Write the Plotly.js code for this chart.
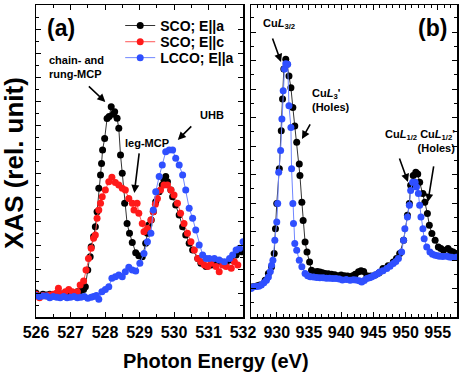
<!DOCTYPE html>
<html>
<head>
<meta charset="utf-8">
<script src="https://cdn.plot.ly/plotly-3.0.1.min.js"></script>
<style>
html,body{margin:0;padding:0;background:#fff;}
#chart{width:463px;height:374px;}
</style>
</head>
<body>
<div id="chart"></div>
<script>
/* ---------- O K-edge (panel a) ---------- */

const oBlackX=[526.0,526.1,526.2,526.3,526.4,526.5,526.6,526.7,526.8,526.9,527.0,527.1,527.2,527.3,527.38,527.43,527.5,527.57,527.6,527.67,527.72,527.77,527.82,527.87,527.9,527.93,527.99,528.06,528.12,528.18,528.24,528.28,528.35,528.4,528.45,528.5,528.57,528.64,528.71,528.79,528.89,528.98,529.08,529.18,529.23,529.27,529.34,529.4,529.47,529.57,529.66,529.71,529.76,529.81,529.91,529.96,530.05,530.15,530.25,530.34,530.44,530.54,530.69,530.78,530.93,531.08,531.22,531.36,531.51,531.66,531.8,531.95];
const oBlackY=[1.0,0.85,0.95,0.92,0.95,0.9,0.92,0.97,0.9,0.95,0.95,0.98,1.05,1.1,1.15,1.26,1.96,2.51,2.93,3.35,3.76,4.39,5.36,5.92,6.4,6.96,7.44,8.27,8.35,8.76,8.45,8.55,8.28,7.86,6.75,5.99,4.74,3.9,3.49,3.1,2.68,2.55,2.51,3.07,3.49,3.83,4.04,4.39,4.8,5.22,5.5,5.7,5.85,5.64,5.29,5.01,4.67,4.25,3.76,3.42,3.07,2.79,2.44,2.24,2.1,2.17,2.24,2.3,2.24,2.38,2.58,2.72];

const oRedX=[526.0,526.1,526.2,526.3,526.4,526.5,526.6,526.65,526.75,526.85,526.95,527.05,527.15,527.2,527.28,527.38,527.45,527.52,527.6,527.67,527.72,527.77,527.82,527.87,527.92,528.01,528.11,528.2,528.3,528.4,528.5,528.59,528.69,528.79,528.84,528.93,528.98,529.08,529.13,529.23,529.33,529.4,529.46,529.52,529.61,529.71,529.81,529.91,530.0,530.1,530.19,530.29,530.39,530.49,530.59,530.69,530.78,530.88,530.98,531.07,531.22,531.31,531.41,531.51,531.66,531.75,531.85];
const oRedY=[0.95,0.8,0.9,0.88,0.92,0.95,1.0,1.2,0.95,1.05,1.15,1.05,0.95,1.05,1.33,1.5,1.96,2.44,2.86,3.28,3.42,4.11,4.46,4.74,5.01,5.29,5.64,5.82,5.6,5.5,5.36,5.29,4.94,4.74,4.46,4.74,4.32,3.9,3.55,3.69,4.04,4.39,4.7,4.94,5.29,5.5,5.5,5.29,5.08,4.74,4.32,3.9,3.49,3.14,2.79,2.44,2.3,2.17,2.1,2.24,2.1,1.89,2.17,2.1,2.03,2.3,2.17];

const oBlueX=[526.0,526.1,526.2,526.3,526.4,526.5,526.6,526.7,526.8,526.9,527.0,527.1,527.2,527.3,527.4,527.5,527.6,527.67,527.75,527.82,527.91,528.01,528.11,528.2,528.3,528.4,528.5,528.59,528.69,528.79,528.89,529.01,529.13,529.23,529.33,529.4,529.47,529.57,529.66,529.76,529.86,529.96,530.05,530.15,530.25,530.34,530.44,530.54,530.63,530.73,530.83,530.93,531.02,531.17,531.31,531.46,531.61,531.7,531.8,531.9,532.0];
const oBlueY=[0.9,0.85,0.88,0.87,0.8,0.85,0.82,0.8,0.85,0.8,0.82,0.85,0.8,0.82,0.85,0.78,0.82,0.85,0.9,0.74,1.05,1.15,1.26,1.61,1.68,1.75,1.68,1.89,2.07,1.96,1.92,2.24,2.65,3.14,3.49,4.46,5.22,5.85,6.33,6.89,6.96,6.96,6.61,6.33,5.92,5.29,4.53,4.11,3.63,3.0,2.58,2.44,2.44,2.44,2.38,2.3,2.44,2.58,2.79,2.86,3.14];

/* ---------- Cu L-edge (panel b) ---------- */

const cuBlackX=[926.0,926.4,927.0,927.4,928.2,928.7,929.2,929.6,929.8,930.0,930.4,930.7,930.9,931.1,931.4,931.6,931.9,932.2,932.5,932.8,933.1,933.5,933.6,933.9,934.1,934.4,934.7,935.1,935.4,935.9,936.3,936.7,937.1,937.5,938.0,938.5,939.0,939.5,940.0,940.5,941.0,941.4,941.8,942.2,942.7,943.1,943.5,944.0,944.6,945.3,945.9,946.5,947.3,948.1,948.6,949.1,949.7,950.3,950.6,950.8,951.2,951.6,951.9,952.2,952.7,953.0,953.4,953.7,954.1,954.6,955.1,955.5,955.9,956.6,957.0,957.4,958.0];
const cuBlackY=[1.05,1.06,1.1,1.12,1.29,1.53,1.76,2.23,3.1,3.98,5.2,6.54,7.65,8.7,9.05,8.87,8.46,8.05,7.35,6.7,6.13,5.37,4.97,4.03,3.39,2.63,2.28,1.93,1.64,1.58,1.6,1.58,1.55,1.53,1.52,1.5,1.48,1.45,1.47,1.45,1.44,1.41,1.45,1.5,1.59,1.62,1.6,1.45,1.44,1.47,1.55,1.7,1.8,1.93,2.05,2.23,2.69,3.57,3.98,4.62,4.97,5.08,5.02,4.73,4.33,4.03,3.63,3.22,2.93,2.69,2.46,2.4,2.34,2.4,2.32,2.28,2.23];

const cuBlueX=[926.0,926.4,926.8,927.2,927.6,928.0,928.4,928.7,929.0,929.2,929.4,929.7,930.0,930.15,930.3,930.6,930.8,931.0,931.2,931.4,931.7,931.9,932.2,932.3,932.5,932.6,932.8,933.1,933.5,933.9,934.4,934.8,935.2,935.7,936.2,936.7,937.2,937.7,938.2,938.7,939.2,939.7,940.2,940.8,941.4,941.9,942.3,942.8,943.2,943.6,944.0,944.4,944.7,945.0,945.3,945.7,946.0,946.5,947.1,947.6,948.1,948.5,948.9,949.4,949.7,949.9,950.3,950.6,950.8,951.1,951.5,951.7,952.0,952.2,952.4,952.7,952.9,953.3,953.8,954.2,954.6,955.0,955.3,955.8,956.4,956.8,957.2,957.9];
const cuBlueY=[1.0,1.06,1.07,1.08,1.12,1.2,1.29,1.4,1.6,1.82,1.99,2.69,3.33,3.98,5.08,5.84,6.95,7.94,8.7,8.89,8.87,7.41,6.65,5.2,3.98,3.28,2.58,2.34,1.99,1.76,1.53,1.45,1.41,1.4,1.39,1.38,1.38,1.36,1.36,1.35,1.35,1.33,1.3,1.32,1.29,1.31,1.3,1.27,1.23,1.28,1.35,1.38,1.4,1.44,1.47,1.52,1.58,1.62,1.7,1.78,1.88,1.95,2.05,2.28,2.69,3.1,3.51,3.92,4.44,4.73,4.73,4.56,4.33,3.92,3.51,3.1,2.75,2.46,2.28,2.2,2.17,2.15,2.13,2.12,2.13,2.11,2.1,2.1];

const seriesNames=["SCO; E||a","SCO; E||c","LCCO; E||a"];
const seriesColors=["#000000","#ff1a1a","#2f4fff"];
const lineColors=["#333333","#ff5555","#6f86ff"];
const legendIds=["legend","legend2","legend3"];

function makeTrace(x,y,i,xa,ya,show){
    return {
        x:x,
        y:y,
        xaxis:xa,
        yaxis:ya,
        mode:"lines+markers",
        name:seriesNames[i],
        legend:legendIds[i],
        showlegend:show,
        line:{color:lineColors[i],width:1},
        marker:{color:seriesColors[i],size:7}
    };
}

let traces=[
    makeTrace(oBlackX,oBlackY,0,"x","y",true),
    makeTrace(oRedX,oRedY,1,"x","y",true),
    makeTrace(oBlueX,oBlueY,2,"x","y",true),
    makeTrace(cuBlackX,cuBlackY,0,"x2","y2",false),
    makeTrace(cuBlueX,cuBlueY,2,"x2","y2",false)
];

const boldFont={family:"Liberation Sans, Arial",color:"#000",weight:"bold"};

function font(size){
    return Object.assign({size:size},boldFont);
}

function frameAxis(extra,minorStep){
    let a={
        showline:true,
        linecolor:"#000",
        linewidth:1.5,
        mirror:"allticks",
        ticks:"inside",
        ticklen:5,
        tickwidth:1,
        tickcolor:"#000",
        showgrid:false,
        zeroline:false,
        tickfont:font(16),
        minor:{ticks:"inside",ticklen:3,tickcolor:"#000",dtick:minorStep,showgrid:false}
    };
    return Object.assign(a,extra);
}

function legendBox(y){
    return {
        x:0.2,y:y,xanchor:"left",yanchor:"middle",
        bgcolor:"rgba(0,0,0,0)",
        font:font(14),
        itemwidth:30
    };
}

function arrow(xa,ya,x,y,ax,ay){
    return {
        xref:xa,yref:ya,x:x,y:y,ax:ax,ay:ay,
        text:"",showarrow:true,arrowhead:2,arrowsize:1,
        arrowwidth:1.6,arrowcolor:"#000"
    };
}

function label(xa,ya,x,y,text,size,anchor){
    return {
        xref:xa,yref:ya,x:x,y:y,text:text,showarrow:false,
        xanchor:anchor||"center",yanchor:"middle",
        align:anchor==="right"?"right":"left",
        font:font(size)
    };
}

let annotations=[
    label("x","y",526.73,12.05,"(a)",23),
    label("x2","y2",954.26,10.15,"(b)",23),
    label("x","y",526.32,10.4,"chain- and<br>rung-MCP",11,"left"),
    arrow("x","y",528.01,8.96,-18,-17),
    label("x","y",529.22,7.25,"leg-MCP",11),
    arrow("x","y",528.85,5.17,5,-41),
    label("x","y",531.1,8.42,"UHB",11),
    arrow("x","y",530.11,7.38,15,-15),
    label("x2","y2",930.35,10.3,"Cu<i>L</i><sub>3/2</sub>",11),
    arrow("x2","y2",930.66,8.95,-9,-25),
    label("x2","y2",935.16,7.6,"Cu<i>L</i><sub>3</sub>'<br>(Holes)",11,"left"),
    arrow("x2","y2",933.92,6.25,9,-16),
    label("x2 domain","y2",1.0,6.18,"Cu<i>L</i><sub>1/2</sub> Cu<i>L</i><sub>1/2</sub>'<br>(Holes)",11,"right"),
    arrow("x2","y2",950.38,4.74,-9,-25),
    arrow("x2","y2",953.48,4.04,6,-37),
    {xref:"paper",yref:"paper",x:0.4276,y:-0.141,text:"Photon Energy (eV)",
     showarrow:false,xanchor:"center",yanchor:"middle",font:font(20)},
    {xref:"paper",yref:"paper",x:-0.052,y:0.494,text:"XAS (rel. unit)",
     textangle:-90,showarrow:false,xanchor:"center",yanchor:"middle",font:font(26)}
];

let layout={
    width:463,
    height:374,
    margin:{l:36,r:6,t:5,b:57},
    paper_bgcolor:"#fff",
    plot_bgcolor:"#fff",
    font:font(15),
    showlegend:true,
    legend:legendBox(0.933),
    legend2:legendBox(0.881),
    legend3:legendBox(0.830),
    xaxis:frameAxis({domain:[0,0.4917],range:[526,532],dtick:1},0.5),
    yaxis:frameAxis({domain:[0,1],range:[0,13],dtick:1,showticklabels:false},0.5),
    xaxis2:frameAxis({domain:[0.5107,1],range:[926,958],dtick:5,tick0:930,anchor:"y2"},1),
    yaxis2:frameAxis({domain:[0,1],range:[0,10.95],dtick:1,showticklabels:false,anchor:"x2"},0.5),
    annotations:annotations
};

Plotly.newPlot("chart",traces,layout,{displayModeBar:false,staticPlot:true});
</script>
</body>
</html>
